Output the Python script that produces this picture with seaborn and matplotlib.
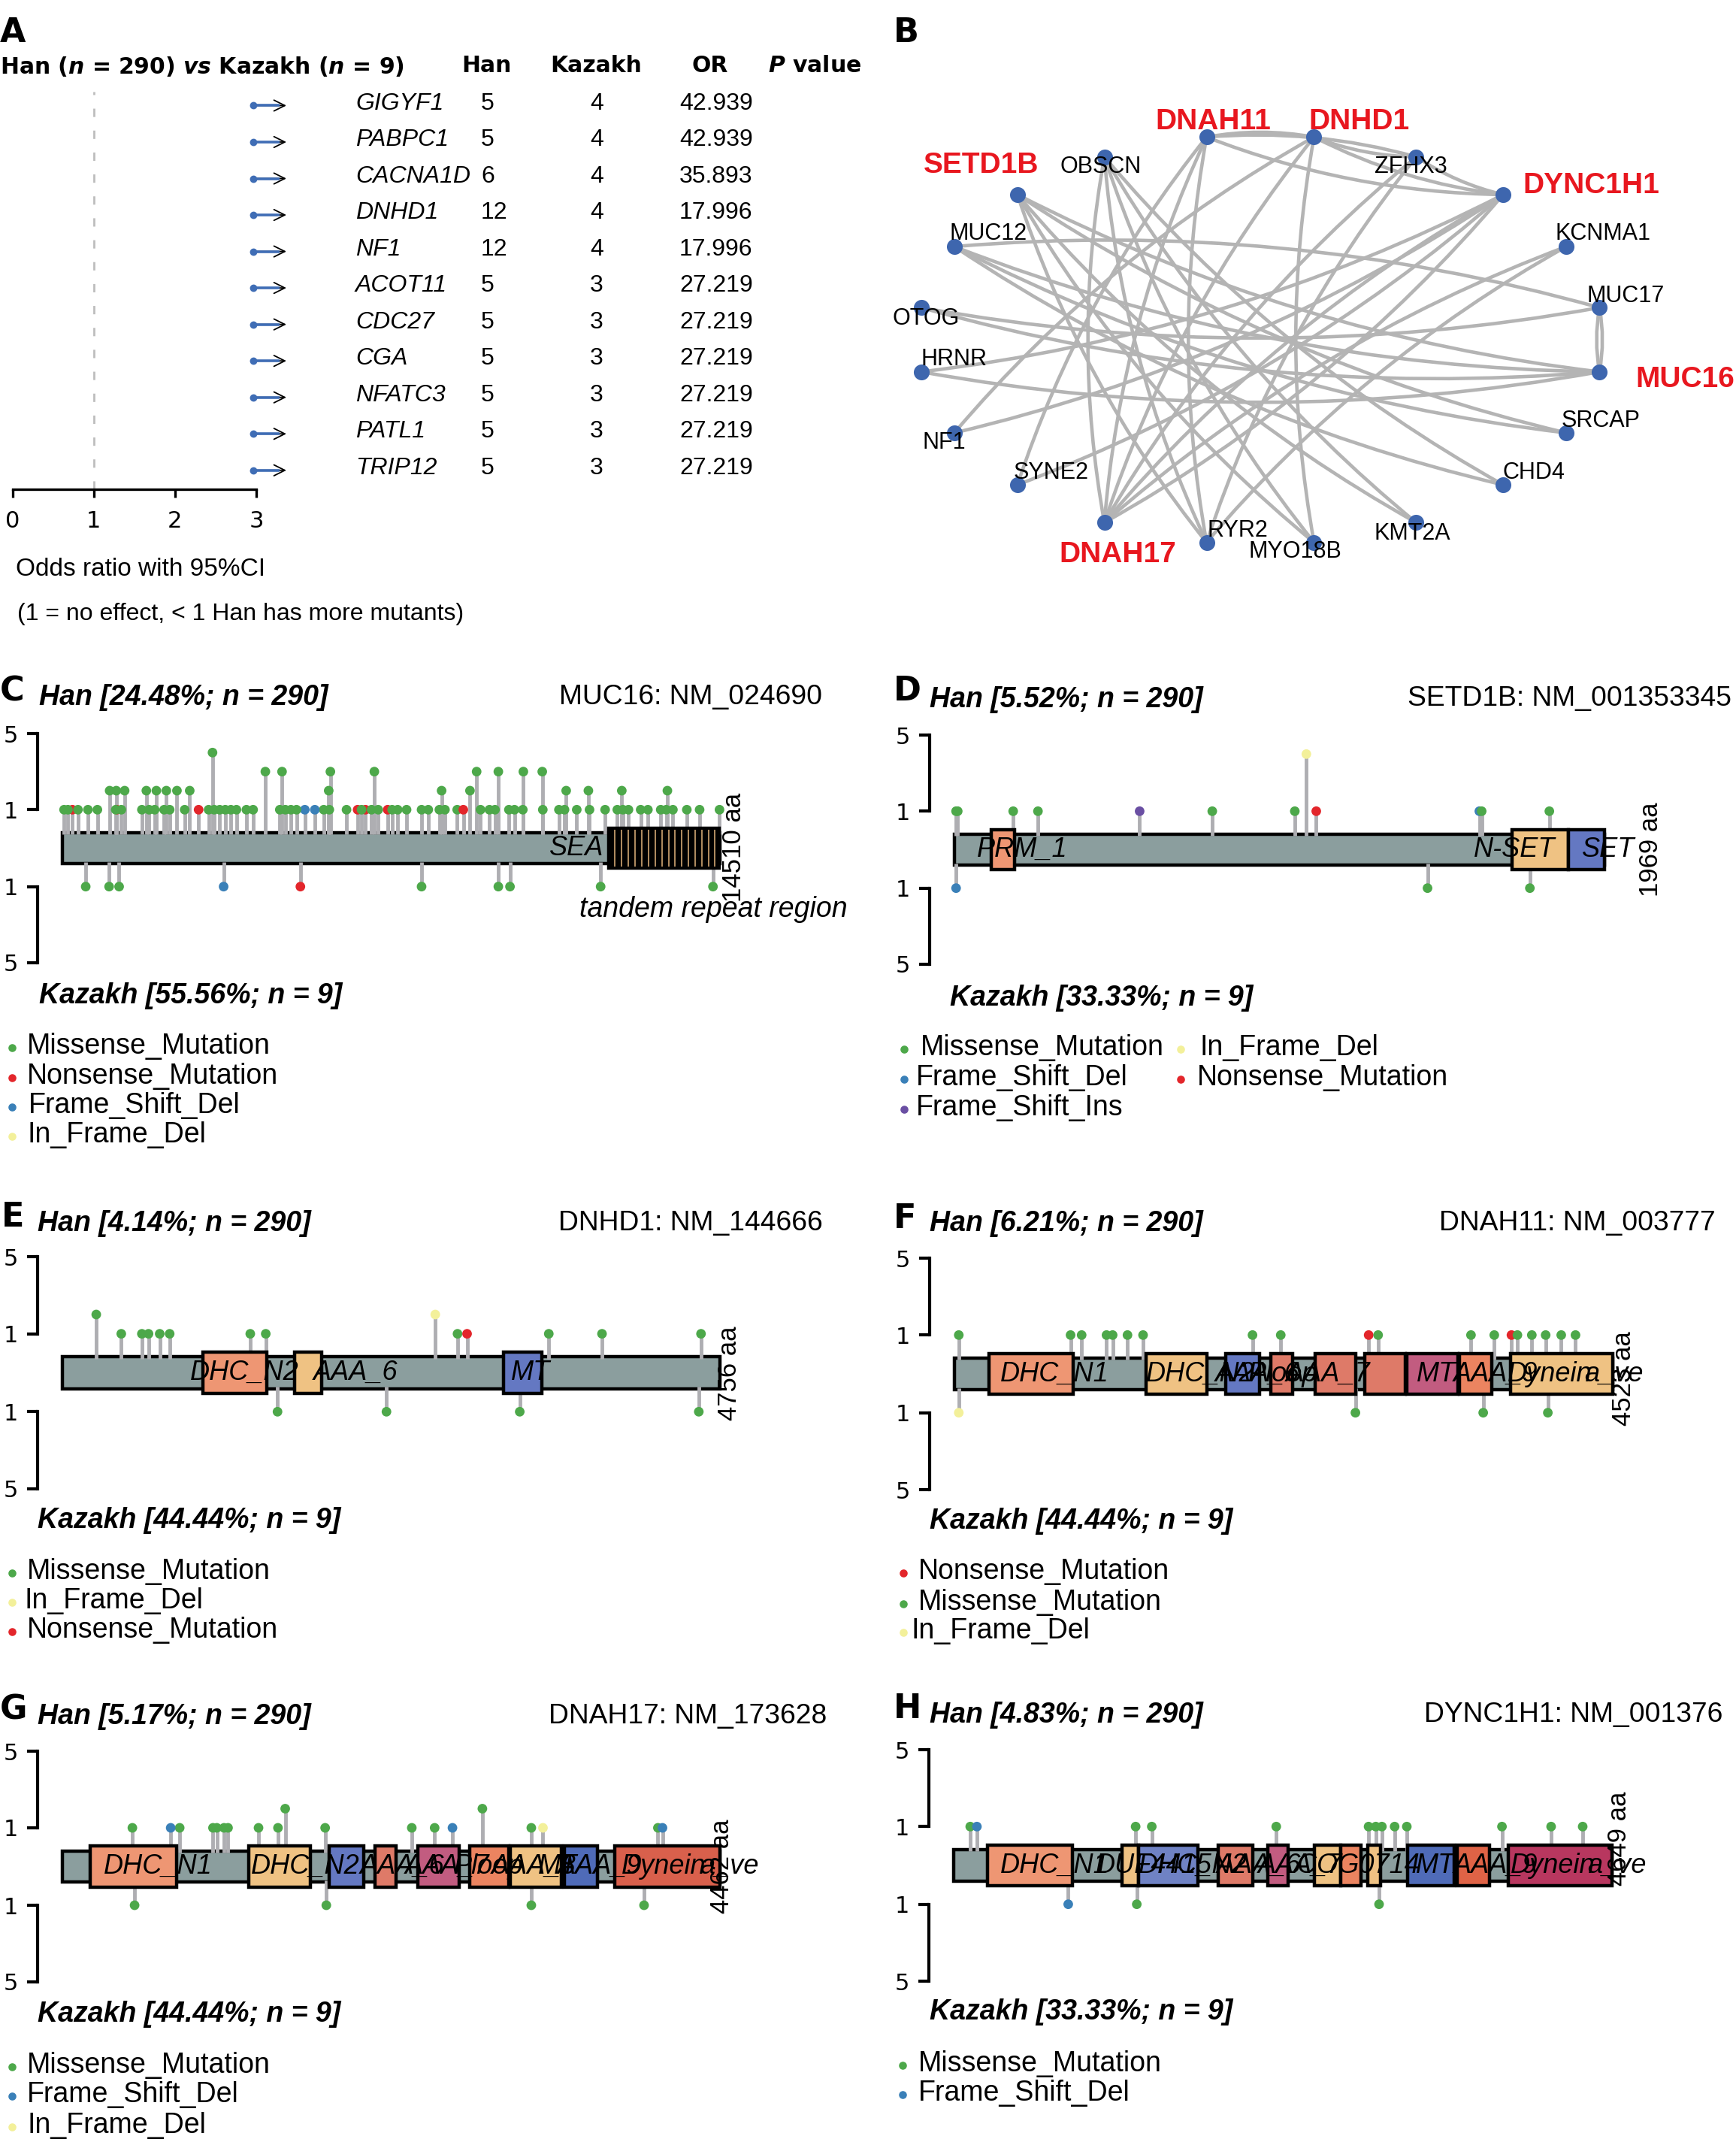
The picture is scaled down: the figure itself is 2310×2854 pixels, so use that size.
"""Multi-panel figure: Han vs Kazakh forest table, gene network and lollipop plots."""
import numpy as np
import pandas as pd
import seaborn as sns
import matplotlib
matplotlib.use("Agg")
import matplotlib.pyplot as plt
import matplotlib.patches as mpatches
import matplotlib.transforms as mtransforms

sns.set_theme(style="white")
plt.rcParams["font.family"] = ["Liberation Sans", "DejaVu Sans"]
plt.rcParams["mathtext.fontset"] = "dejavusans"
plt.rcParams["text.color"] = "black"

############################## Data: panel A table.

A_GENES = ["GIGYF1", "PABPC1", "CACNA1D", "DNHD1", "NF1", "ACOT11", "CDC27",
           "CGA", "NFATC3", "PATL1", "TRIP12"]
A_HAN = [5, 5, 6, 12, 12, 5, 5, 5, 5, 5, 5]
A_KAZAKH = [4, 4, 4, 4, 4, 3, 3, 3, 3, 3, 3]
A_OR = ["42.939", "42.939", "35.893", "17.996", "17.996", "27.219", "27.219",
        "27.219", "27.219", "27.219", "27.219"]

############################## Data: panel B network.

# Clockwise round the circle, starting right of the top.
B_NODES = ["DNHD1", "ZFHX3", "DYNC1H1", "KCNMA1", "MUC17", "MUC16", "SRCAP",
           "CHD4", "KMT2A", "MYO18B", "RYR2", "DNAH17", "SYNE2", "NF1", "HRNR",
           "OTOG", "MUC12", "SETD1B", "OBSCN", "DNAH11"]
B_HIGHLIGHT = ["DNAH11", "DNHD1", "SETD1B", "DYNC1H1", "MUC16", "DNAH17"]
B_EDGES = [
    ("DNHD1", "DNAH11"), ("ZFHX3", "DNAH11"), ("DNAH11", "DYNC1H1"),
    ("DNHD1", "ZFHX3"), ("DNHD1", "DYNC1H1"), ("ZFHX3", "DYNC1H1"),
    ("DNAH11", "DNAH17"), ("DNAH11", "RYR2"), ("DNAH11", "SYNE2"),
    ("DNHD1", "DNAH17"), ("DNHD1", "MYO18B"), ("DNHD1", "NF1"),
    ("ZFHX3", "DNAH17"), ("ZFHX3", "RYR2"),
    ("HRNR", "DYNC1H1"), ("NF1", "DYNC1H1"), ("SYNE2", "DYNC1H1"),
    ("DNAH17", "DYNC1H1"), ("DYNC1H1", "DNAH17"),
    ("KCNMA1", "DNAH17"), ("KCNMA1", "RYR2"),
    ("MUC17", "MUC16"), ("MUC16", "MUC17"), ("MUC17", "MUC12"), ("OTOG", "MUC17"),
    ("OTOG", "MUC16"), ("MUC12", "MUC16"), ("SETD1B", "MUC16"), ("HRNR", "MUC16"),
    ("SETD1B", "SRCAP"), ("MUC12", "SRCAP"), ("MUC12", "CHD4"), ("OBSCN", "CHD4"),
    ("SETD1B", "KMT2A"), ("OBSCN", "KMT2A"), ("SETD1B", "MYO18B"), ("OBSCN", "MYO18B"),
    ("SETD1B", "RYR2"), ("OBSCN", "RYR2"), ("OBSCN", "DNAH17"),
]

############################## Data: lollipop panels (amino-acid position).

MIS, NON, FSD, IFD, FSI = ("Missense_Mutation", "Nonsense_Mutation", "Frame_Shift_Del",
                           "In_Frame_Del", "Frame_Shift_Ins")

MUC16_LEN = 14510
# Order matters: later rows sit on top of earlier ones.
MUC16_HAN = [
    (NON, 1, [221, 1202, 6515, 6687, 7178]),
    (FSD, 1, [5350]),
    (MIS, 1, [37, 123, 344, 564, 773, 1178, 1301, 1755, 1914, 2037, 2245, 2368, 2699, 3227,
              3350, 3472, 3595, 3718, 3841, 4061, 4209, 4798, 4920, 5043, 5166, 5767, 5890,
              6270, 6601, 6822, 6969, 7276, 7399, 7595, 7926, 8074, 8319, 8442, 8712, 9227,
              9423, 9546, 9853, 9976, 10160, 10601, 10957, 11080, 11350, 11632, 11976, 12245,
              12368, 12491, 12761, 12920, 13203, 13325, 13472, 13779, 14061, 14500]),
    (MIS, 2, [1043, 1190, 1374, 1853, 2074, 2294, 2528, 2810, 5877, 8368, 8994, 11117, 11607,
              12344, 13350]),
    (MIS, 3, [4479, 4847, 5914, 6884, 9141, 9620, 10172, 10589]),
    (MIS, 4, [3313]),
    (NON, 1, [3006, 8847]),
    (FSD, 1, [5571]),
]
MUC16_KAZAKH = [(MIS, 1, [515, 1031, 1252, 7926, 9620, 9877, 11877, 14356]),
                (FSD, 1, [3558]), (NON, 1, [5252])]
MUC16_DOMAINS = [("tandem", 12060, 14490)]
MUC16_REPEATS = [12190, 12340, 12490, 12640, 12790, 12930, 13080, 13230, 13380, 13520,
                 13670, 13820, 13970, 14110, 14260, 14390]
MUC16_LABELS = [("SEA", 11350)]

SETD1B_LEN = 1969
SETD1B_HAN = [(FSD, 1, [1590]),
              (MIS, 1, [5, 10, 178, 253, 781, 1031, 1597, 1802]),
              (FSI, 1, [561]), (IFD, 4, [1066]), (NON, 1, [1096])]
SETD1B_KAZAKH = [(FSD, 1, [5]), (MIS, 1, [1433, 1743])]
SETD1B_DOMAINS = [("salmon", 111, 181), ("tan", 1689, 1860), ("blue", 1860, 1969)]
SETD1B_LABELS = [("PRM_1", 205), ("N-SET", 1696), ("SET", 1980)]

DNHD1_LEN = 4756
DNHD1_HAN = [(MIS, 2, [245]),
             (MIS, 1, [426, 575, 623, 704, 776, 1359, 1471, 2858, 3518, 3903, 4619]),
             (IFD, 2, [2697]), (NON, 1, [2927])]
DNHD1_KAZAKH = [(MIS, 1, [1556, 2344, 3308, 4603])]
DNHD1_DOMAINS = [("salmon", 1017, 1480), ("tan", 1680, 1874), ("blue", 3188, 3470)]
DNHD1_LABELS = [("DHC_N2", 1319), ("AAA_6", 2123), ("MT", 3389)]

DNAH11_LEN = 4523
DNAH11_HAN = [(NON, 1, [2846, 3827]),
              (MIS, 1, [30, 798, 874, 1045, 1087, 1189, 1296, 2048, 2242, 2911, 3549, 3709,
                        3868, 3967, 4062, 4169, 4267])]
DNAH11_KAZAKH = [(IFD, 1, [30]), (MIS, 1, [2755, 3633, 4077])]
DNAH11_DOMAINS = [("salmon", 239, 817), ("tan", 1319, 1733), ("blue", 1862, 2098),
                  ("coral", 2174, 2326), ("coral", 2478, 2755), ("coral", 2820, 3097),
                  ("pink", 3108, 3458), ("orange", 3469, 3694), ("tan", 3819, 4523)]
DNAH11_LABELS = [("DHC_N1", 687), ("DHC_N2", 1688), ("AAA_6", 2081), ("Ploop", 2256),
                 ("AAA_7", 2566), ("MT", 3309), ("AAA_9", 3717), ("Dynein", 4089),
                 ("a_ve", 4533)]

DNAH17_LEN = 4462
DNAH17_HAN = [(MIS, 1, [475, 796, 1022, 1048, 1097, 1124, 1331, 1463, 1783, 2371, 2526,
                        3182, 4041]),
              (MIS, 2, [1512, 2850]),
              (FSD, 1, [735, 2647, 4072]), (IFD, 1, [3261])]
DNAH17_KAZAKH = [(MIS, 1, [490, 1791, 3182, 3947])]
DNAH17_DOMAINS = [("salmon", 189, 777), ("tan", 1267, 1681), ("blue", 1810, 2047),
                  ("coral", 2123, 2262), ("pink", 2413, 2692), ("orange", 2763, 3027),
                  ("tan", 3039, 3385), ("navy", 3404, 3631), ("red", 3747, 4462)]
DNAH17_LABELS = [("DHC_N1", 648), ("DHC_N2", 1647), ("AAA_6", 2305), ("AAA_7", 2611),
                 ("Ploop", 2892), ("AAA_8", 3198), ("MT", 3361), ("AAA_9", 3647),
                 ("Dynein", 4080), ("a_ve", 4524)]

DYNC1H1_LEN = 4649
DYNC1H1_HAN = [(MIS, 1, [117, 1285, 1399, 2278, 2930, 2981, 3024, 3114, 3200, 3872, 4219,
                         4442]),
               (FSD, 1, [164])]
DYNC1H1_KAZAKH = [(FSD, 1, [809]), (MIS, 1, [1293, 3004])]
DYNC1H1_DOMAINS = [("salmon", 238, 840), ("tan", 1188, 1305), ("cornflower", 1305, 1727),
                   ("coral", 1868, 2110), ("pink", 2219, 2364), ("tan", 2547, 2735),
                   ("orange", 2735, 2879), ("tan", 2922, 3016), ("navy", 3204, 3536),
                   ("vermilion", 3555, 3786), ("crimson", 3915, 4649)]
DYNC1H1_LABELS = [("DHC_N1", 711), ("DUF4415", 1412), ("DHC_N2", 1688), ("AAA_6", 2155),
                  ("AAA_7", 2446), ("COG0714", 2860), ("MT", 3402), ("AAA_9", 3826),
                  ("Dynein", 4230), ("a_ve", 4681)]

############################## Styles and layout (pixels of the 2310x2854 page).

W, H = 2310, 2854
PT = 0.72  # points per pixel at dpi=100
DEJA = ["DejaVu Sans"]

MUT_COLORS = {MIS: "#4DA84A", NON: "#E3262B", FSD: "#3A80B8", IFD: "#F3F09A", FSI: "#6A4FA3"}
DOMAIN_COLORS = dict(salmon="#EE9673", tan="#EFC283", blue="#6478C2", coral="#DE7A68",
                     pink="#C25C80", orange="#EB8460", navy="#4F6BB8", red="#D9604C",
                     cornflower="#6F82C4", vermilion="#DF6346", crimson="#B8375F",
                     tandem="black")
TRACK_COLOR = "#8B9E9E"
STEM_COLOR = "#AEAEB2"
EDGE_COLOR = "#B4B4B4"
NODE_COLOR = "#3E66AE"
RED = "#E8171F"

GAP = 1.02       # count 1 sits this far above count-zero on the shared y scale
TRACK_HALF = 0.82
DOMAIN_HALF = 1.06
SPINE_OFFSET = 33  # px between the scale bars and the protein track
TEXT_DY = 2        # small downward nudge for page text

PANELS = [
    dict(letter="C", lx=0, ly=920, gene="MUC16: NM_024690", gx=744, gy=926,
         han="Han [24.48%; n = 290]", hx=52, hy=926,
         kaz="Kazakh [55.56%; n = 9]", kx=52, ky=1323,
         x0=83, x1=958, top=976, bot=1281,
         length=MUC16_LEN, han_data=MUC16_HAN, kaz_data=MUC16_KAZAKH,
         domains=MUC16_DOMAINS, labels=MUC16_LABELS, aa_x=976, aa_y=1127,
         legend=[(MIS, 16, 36, 1390), (NON, 16, 36, 1430), (FSD, 16, 38, 1469), (IFD, 16, 36, 1508)]),
    dict(letter="D", lx=1189, ly=919, gene="SETD1B: NM_001353345", gx=1873, gy=928,
         han="Han [5.52%; n = 290]", hx=1237, hy=929,
         kaz="Kazakh [33.33%; n = 9]", kx=1264, ky=1326,
         x0=1270, x1=2135, top=978, bot=1283,
         length=SETD1B_LEN, han_data=SETD1B_HAN, kaz_data=SETD1B_KAZAKH,
         domains=SETD1B_DOMAINS, labels=SETD1B_LABELS, aa_x=2196, aa_y=1130,
         legend=[(MIS, 1203, 1225, 1392), (FSD, 1203, 1219, 1432), (FSI, 1203, 1219, 1472),
                 (IFD, 1571, 1596, 1392), (NON, 1571, 1593, 1432)]),
    dict(letter="E", lx=2, ly=1620, gene="DNHD1: NM_144666", gx=743, gy=1626,
         han="Han [4.14%; n = 290]", hx=50, hy=1626,
         kaz="Kazakh [44.44%; n = 9]", kx=50, ky=2021,
         x0=83, x1=958, top=1672, bot=1981,
         length=DNHD1_LEN, han_data=DNHD1_HAN, kaz_data=DNHD1_KAZAKH,
         domains=DNHD1_DOMAINS, labels=DNHD1_LABELS, aa_x=971, aa_y=1827,
         legend=[(MIS, 16, 36, 2089), (IFD, 16, 33, 2128), (NON, 16, 36, 2167)]),
    dict(letter="F", lx=1189, ly=1621, gene="DNAH11: NM_003777", gx=1915, gy=1626,
         han="Han [6.21%; n = 290]", hx=1237, hy=1626,
         kaz="Kazakh [44.44%; n = 9]", kx=1237, ky=2022,
         x0=1270, x1=2146, top=1674, bot=1982,
         length=DNAH11_LEN, han_data=DNAH11_HAN, kaz_data=DNAH11_KAZAKH,
         domains=DNAH11_DOMAINS, labels=DNAH11_LABELS, aa_x=2161, aa_y=1834,
         legend=[(NON, 1202, 1222, 2089), (MIS, 1202, 1222, 2130), (IFD, 1202, 1213, 2168)]),
    dict(letter="G", lx=0, ly=2275, gene="DNAH17: NM_173628", gx=730, gy=2282,
         han="Han [5.17%; n = 290]", hx=50, hy=2282,
         kaz="Kazakh [44.44%; n = 9]", kx=50, ky=2678,
         x0=83, x1=958, top=2330, bot=2637,
         length=DNAH17_LEN, han_data=DNAH17_HAN, kaz_data=DNAH17_KAZAKH,
         domains=DNAH17_DOMAINS, labels=DNAH17_LABELS, aa_x=961, aa_y=2483,
         legend=[(MIS, 16, 36, 2746), (FSD, 16, 36, 2785), (IFD, 16, 36, 2826)]),
    dict(letter="H", lx=1189, ly=2274, gene="DYNC1H1: NM_001376", gx=1895, gy=2280,
         han="Han [4.83%; n = 290]", hx=1237, hy=2280,
         kaz="Kazakh [33.33%; n = 9]", kx=1237, ky=2675,
         x0=1269, x1=2145, top=2328, bot=2636,
         length=DYNC1H1_LEN, han_data=DYNC1H1_HAN, kaz_data=DYNC1H1_KAZAKH,
         domains=DYNC1H1_DOMAINS, labels=DYNC1H1_LABELS, aa_x=2155, aa_y=2446,
         legend=[(MIS, 1201, 1222, 2744), (FSD, 1201, 1222, 2783)]),
]

# Network label centres on the page.
B_LABEL_XY = dict(OBSCN=(1465, 221), ZFHX3=(1877, 221), KCNMA1=(2133, 310), MUC17=(2163, 393),
                  SRCAP=(2130, 559), CHD4=(2041, 628), KMT2A=(1879, 709), MYO18B=(1723, 733),
                  RYR2=(1647, 705), SYNE2=(1399, 628), NF1=(1256, 588), HRNR=(1269, 477),
                  OTOG=(1232, 423), MUC12=(1315, 310), DNAH11=(1614, 161), DNHD1=(1808, 161),
                  SETD1B=(1306, 219), DYNC1H1=(2117, 246), MUC16=(2242, 504), DNAH17=(1487, 737))


def add_axes_px(fig, left, top, right, bottom):
    """Axes from page pixels, with y counted from the top of the page."""
    return fig.add_axes([left / W, 1 - bottom / H, (right - left) / W, (bottom - top) / H])


fig = plt.figure(figsize=(W / 100, H / 100), dpi=100, facecolor="white")

# Page-wide axes for all free-standing text.
page = fig.add_axes([0, 0, 1, 1], zorder=10)
page.set_xlim(0, W)
page.set_ylim(H, 0)
page.axis("off")

for letter, x, y in [("A", 0, 43), ("B", 1189, 43)]:
    page.text(x, y, letter, fontsize=32, fontweight="bold", family=DEJA, ha="left", va="center")


############################## Panel A: forest plot and table.

ax = add_axes_px(fig, 16.6, 122, 341, 651)
ax.set_xlim(0, 3)
ax.set_ylim(10.58, -0.32)
rows = np.arange(len(A_GENES))
ARROW_START, ARROW_BLUE, ARROW_END = 2.96, 3.29, 3.37

ax.axvline(1, color="#BDBDBD", lw=2, dashes=(4, 6.5), zorder=1)
ax.hlines(rows + .06, ARROW_START, ARROW_BLUE, color="#3F6DB5", lw=2.6, zorder=3, clip_on=False)
sns.scatterplot(x=np.full(len(rows), ARROW_START), y=rows + .06, color="#3F6DB5", s=50,
                linewidth=0, clip_on=False, zorder=3, ax=ax)
for row in rows:
    ax.annotate("", xy=(ARROW_END, row + .06), xytext=(ARROW_START, row + .06), zorder=2,
                arrowprops=dict(arrowstyle="->", lw=1.3, color="black", mutation_scale=26,
                                shrinkA=0, shrinkB=0), annotation_clip=False)
sns.despine(ax=ax, left=True)
ax.spines["bottom"].set_linewidth(2.4)
ax.spines["bottom"].set_color("black")
ax.set_yticks([])
ax.set_xticks([0, 1, 2, 3], labels=["0", "1", "2", "3"], family=DEJA, fontsize=22)
ax.tick_params(axis="x", bottom=True, direction="out", length=8, width=2.4, color="black",
               pad=12, labelcolor="black")
ax.patch.set_alpha(0)

trans = mtransforms.blended_transform_factory(page.transData, ax.transData)
for row, gene, han, kaz, odds in zip(rows, A_GENES, A_HAN, A_KAZAKH, A_OR):
    ax.text(473, row, gene, transform=trans, style="italic", fontsize=23, va="center", clip_on=False)
    ax.text(640, row, str(han), transform=trans, fontsize=23, va="center", clip_on=False)
    ax.text(785, row, str(kaz), transform=trans, fontsize=23, va="center", clip_on=False)
    ax.text(904, row, odds, transform=trans, fontsize=23, va="center", clip_on=False)

HEAD = dict(fontsize=21.5, fontweight="bold", family=DEJA, va="center", ha="left")
page.text(0, 88, r"Han ($\mathbfit{n}$ = 290) $\mathbfit{vs}$ Kazakh ($\mathbfit{n}$ = 9)", **HEAD)
page.text(614, 88, "Han", **HEAD)
page.text(732, 88, "Kazakh", **HEAD)
page.text(921, 88, "OR", **HEAD)
page.text(1022, 88, r"$\mathbfit{P}$ value", **HEAD)
page.text(21, 758, "Odds ratio with 95%CI", fontsize=24, va="center")
page.text(23, 817, "(1 = no effect, < 1 Han has more mutants)", fontsize=23, va="center")


############################## Panel B: gene network on a circular layout.

NET_CX, NET_CY, NET_RX, NET_RY = 1677, 452, 457, 273
axn = add_axes_px(fig, NET_CX - NET_RX, NET_CY - NET_RY, NET_CX + NET_RX, NET_CY + NET_RY)
axn.set_xlim(-1, 1)
axn.set_ylim(-1, 1)
axn.axis("off")

angles = np.deg2rad(81 - 18 * np.arange(len(B_NODES)))
nodes = pd.DataFrame({"gene": B_NODES, "x": np.cos(angles), "y": np.sin(angles)}).set_index("gene")

for a, b in B_EDGES:
    edge = mpatches.FancyArrowPatch(nodes.loc[a, ["x", "y"]].to_numpy(dtype=float),
                                    nodes.loc[b, ["x", "y"]].to_numpy(dtype=float),
                                    connectionstyle="arc3,rad=0.09", arrowstyle="-",
                                    color=EDGE_COLOR, lw=3.3, shrinkA=0, shrinkB=0,
                                    zorder=1, clip_on=False)
    axn.add_patch(edge)
sns.scatterplot(data=nodes, x="x", y="y", color=NODE_COLOR, s=230, linewidth=0,
                clip_on=False, zorder=3, ax=axn)

for gene, (x, y) in B_LABEL_XY.items():
    if gene in B_HIGHLIGHT:
        page.text(x, y + 1, gene, color=RED, fontsize=28, fontweight="bold", ha="center", va="center")
    else:
        page.text(x, y + 1, gene, color="black", fontsize=22, ha="center", va="center")


############################## Panels C-H: lollipop plots.

def to_frame(records, sign):
    """Long table of (position, signed height, mutation type) for one population."""
    out = [dict(pos=pos, y=sign * (count + GAP), kind=kind)
           for kind, count, positions in records for pos in positions]
    return pd.DataFrame(out)


for p in PANELS:
    ax = add_axes_px(fig, p["x0"], p["top"], p["x1"], p["bot"])
    ax.set_xlim(0, p["length"])
    ax.set_ylim(-5 - GAP, 5 + GAP)
    ax.patch.set_alpha(0)

    # Protein track, stems, domains, then lollipop heads.
    ax.bar(0, 2 * TRACK_HALF, width=p["length"], bottom=-TRACK_HALF, align="edge",
           color=TRACK_COLOR, edgecolor="black", linewidth=3.2, zorder=1, clip_on=False)
    for records, sign in [(p["han_data"], 1), (p["kaz_data"], -1)]:
        frame = to_frame(records, sign)
        ax.vlines(frame["pos"], sign * (TRACK_HALF - .08), frame["y"], color=STEM_COLOR,
                  lw=3.5, zorder=2, clip_on=False)
        sns.scatterplot(data=frame, x="pos", y="y", hue="kind", palette=MUT_COLORS, s=85,
                        linewidth=0, legend=False, clip_on=False, zorder=6, ax=ax)
    for color, start, end in p["domains"]:
        ax.bar(start, 2 * DOMAIN_HALF, width=end - start, bottom=-DOMAIN_HALF, align="edge",
               color=DOMAIN_COLORS[color], edgecolor="black", linewidth=3.2, zorder=3, clip_on=False)
    if p["gene"].startswith("MUC16"):
        ax.vlines(MUC16_REPEATS, -DOMAIN_HALF + .1, DOMAIN_HALF - .1, color="#E2B57C", lw=1.1, zorder=4)
        ax.text(14368, -3.2, "tandem repeat region", style="italic", fontsize=27,
                ha="center", va="center", clip_on=False, zorder=5)
    for label, pos in p["labels"]:
        ax.text(pos, 0, label, style="italic", fontsize=26, ha="center", va="center",
                color="black", clip_on=False, zorder=5)

    # Scale bars: one spine per population.
    offset = SPINE_OFFSET * PT
    tw = ax.twinx()
    tw.set_ylim(ax.get_ylim())
    tw.yaxis.set_ticks_position("left")
    for axis, ticks in [(ax, [1 + GAP, 5 + GAP]), (tw, [-1 - GAP, -5 - GAP])]:
        sns.despine(ax=axis, left=False, bottom=True, right=True, top=True)
        axis.spines["left"].set_position(("outward", offset))
        axis.spines["left"].set_bounds(min(ticks), max(ticks))
        axis.spines["left"].set_linewidth(3)
        axis.spines["left"].set_color("black")
        axis.set_yticks(ticks, labels=["1", "5"], family=DEJA, fontsize=22)
        axis.tick_params(axis="y", left=True, right=False, labelleft=True, labelright=False,
                         length=10, width=3, color="black", pad=9, labelcolor="black")
        axis.set_xticks([])
        axis.set_xlabel("")
        axis.set_ylabel("")

    # Free text on the page.
    page.text(p["lx"], p["ly"], p["letter"], fontsize=32, fontweight="bold", family=DEJA,
              ha="left", va="center")
    page.text(p["hx"], p["hy"] + TEXT_DY, p["han"], fontsize=27, fontweight="bold",
              style="italic", va="center")
    page.text(p["kx"], p["ky"] + TEXT_DY, p["kaz"], fontsize=27, fontweight="bold",
              style="italic", va="center")
    page.text(p["gx"], p["gy"] + TEXT_DY, p["gene"], fontsize=26.8, va="center")
    page.text(p["aa_x"], p["aa_y"], f"{p['length']} aa", fontsize=25, rotation=90,
              ha="center", va="center")

    for kind, marker_x, text_x, y in p["legend"]:
        page.scatter([marker_x], [y + 4], s=58, color=MUT_COLORS[kind], linewidth=0)
        page.text(text_x, y + TEXT_DY, kind, fontsize=27, va="center")

fig.savefig("out.png", dpi=100, facecolor="white")
plt.close(fig)
